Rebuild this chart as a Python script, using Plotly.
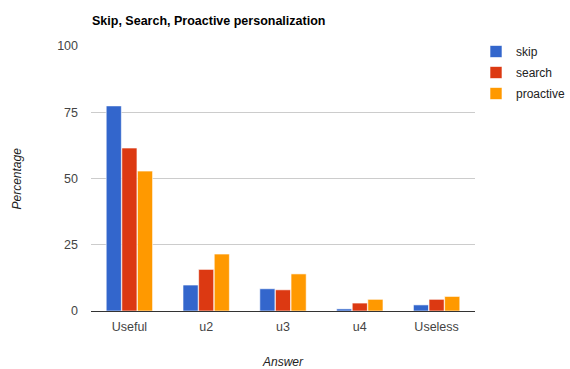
import plotly.graph_objects as go

categories = ["Useful", "u2", "u3", "u4", "Useless"]
skip = [77.4, 9.8, 8.4, 0.8, 2.3]
search = [61.5, 15.7, 8.0, 3.0, 4.4]
proactive = [52.8, 21.5, 14.0, 4.4, 5.5]
series_names = ["skip", "search", "proactive"]
colors = ["#3366cc", "#dc3912", "#ff9900"]

fig = go.Figure()
for name, vals, col in zip(series_names, [skip, search, proactive], colors):
    fig.add_trace(go.Bar(x=categories, y=vals, name=name, legendgroup=name,
                         marker=dict(color=col, line=dict(color="rgba(255,255,255,0.6)", width=1))))

fig.update_layout(
    width=570, height=369,
    margin=dict(l=91, r=95, t=46, b=58, autoexpand=False),
    paper_bgcolor="white", plot_bgcolor="white",
    font=dict(family="Arial, Liberation Sans, sans-serif", size=12, color="#444"),
    barmode="group", bargap=0.39, bargroupgap=0.03,
    showlegend=True,
    legend=dict(xref="container", yref="container", x=476/570, y=1-37/369,
                xanchor="left", yanchor="top",
                font=dict(size=12, color="#222"), tracegroupgap=2,
                itemwidth=30, bgcolor="rgba(0,0,0,0)"),
    title=dict(text="<b>Skip, Search, Proactive personalization</b>",
               xref="container", x=92/570, xanchor="left", y=1-21/369, yanchor="middle",
               font=dict(size=12.5, color="#000")),
    xaxis=dict(showgrid=False, showline=False, ticks="", ticklabelstandoff=6,
               tickfont=dict(size=12.5, color="#444")),
    yaxis=dict(range=[0, 100], tickvals=[0, 25, 50, 75, 100], showgrid=True,
               gridcolor="#cccccc", gridwidth=1, zeroline=True, zerolinecolor="#333",
               zerolinewidth=1, tickfont=dict(size=12.5, color="#444"), ticks="",
               ticklabelstandoff=12),
    annotations=[
        dict(text="<i>Percentage</i>", xref="paper", yref="paper",
             x=-75/384, y=0.5, textangle=-90, showarrow=False,
             font=dict(size=12, color="#222"), xanchor="center", yanchor="middle"),
        dict(text="<i>Answer</i>", xref="paper", yref="paper",
             x=0.5, y=-51/265, showarrow=False,
             font=dict(size=12, color="#222"), xanchor="center", yanchor="middle"),
    ],
)

fig.write_html("out.html")
